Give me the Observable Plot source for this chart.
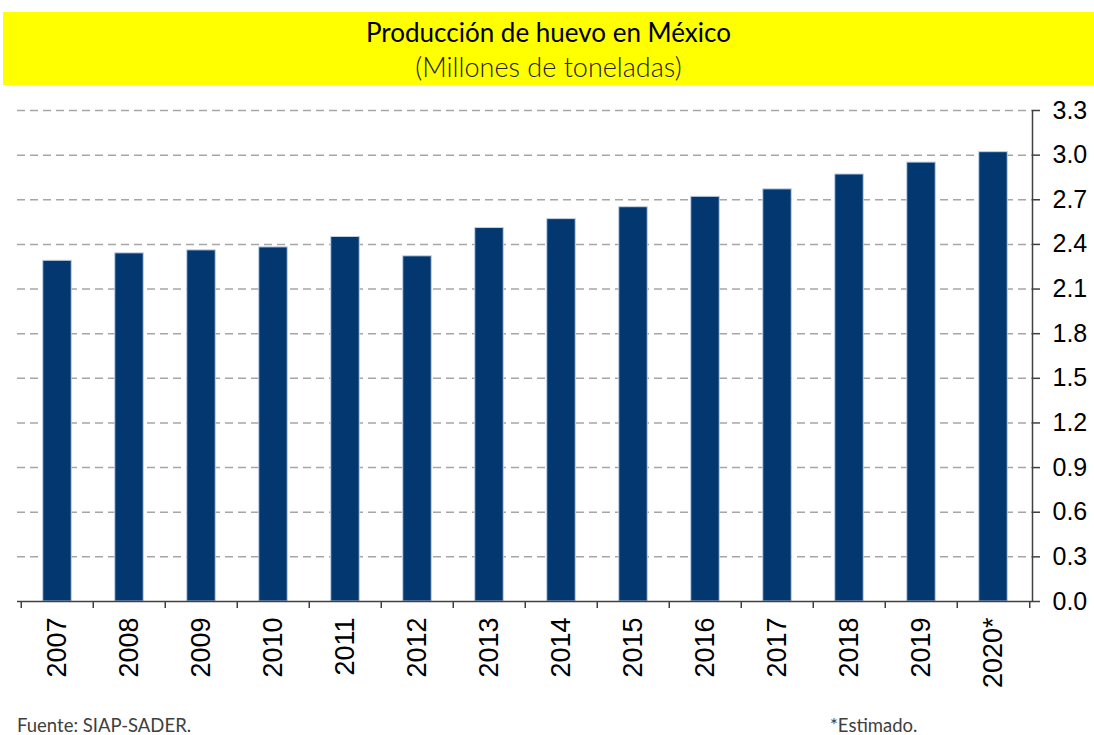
<!DOCTYPE html>
<html>
<head>
<meta charset="utf-8">
<script src="https://cdn.jsdelivr.net/npm/d3@7"></script>
<script src="https://cdn.jsdelivr.net/npm/@observablehq/plot@0.6"></script>
<style>
  body { margin: 0; background: #fff; width: 1094px; height: 735px; position: relative; overflow: hidden; }
  #band { position: absolute; left: 3px; top: 12px; width: 1091px; height: 73px; background: #ffff00; text-align: center; font-family: Lato, "Open Sans", sans-serif; }
  #title { position: absolute; left: 0; right: 0; top: 4px; font-size: 26px; color: #000; }
  #subtitle { position: absolute; left: 0; right: 0; top: 38px; font-size: 27px; color: #222; font-weight: 300; }
  #chart { position: absolute; left: 0; top: 90px; }
  .foot { position: absolute; top: 714px; font-family: Lato, "Open Sans", sans-serif; font-size: 18.5px; color: #404040; }
</style>
</head>
<body>
<div id="band"><div id="title">Producción de huevo en México</div><div id="subtitle">(Millones de toneladas)</div></div>
<div id="chart"></div>
<div class="foot" style="left:17px">Fuente: SIAP-SADER.</div>
<div class="foot" style="left:830px">*Estimado.</div>
<script>
const years = ["2007","2008","2009","2010","2011","2012","2013","2014","2015","2016","2017","2018","2019","2020*"];
const values = [2.29, 2.34, 2.36, 2.38, 2.45, 2.32, 2.51, 2.57, 2.65, 2.72, 2.77, 2.87, 2.95, 3.02];
const yTicks = [0, 0.3, 0.6, 0.9, 1.2, 1.5, 1.8, 2.1, 2.4, 2.7, 3.0, 3.3];

const data = years.map((year, i) => ({year, value: values[i]}));

const W = 1094, H = 600, ML = 17, MR = 62, MT = 20, MB = 89;
const bw = (W - ML - MR) / years.length;
const inset = bw * 0.3;
const font = "'Liberation Sans', Arial, sans-serif";

const chart = Plot.plot({
  width: W, height: H,
  marginLeft: ML, marginRight: MR, marginTop: MT, marginBottom: MB,
  style: {fontFamily: font, fontSize: "25px", color: "#000", background: "transparent"},
  x: {domain: years, padding: 0, axis: null},
  y: {domain: [0, 3.3], axis: null},
  marks: [
    Plot.ruleY(yTicks.filter(d => d > 0), {stroke: "#a6a6a6", strokeWidth: 1.5, strokeDasharray: "8,5"}),
    Plot.barY(data, {x: "year", y: "value", fill: "#03376F", stroke: "#c3d1e6", strokeWidth: 1, insetLeft: inset, insetRight: inset}),
    Plot.ruleY([0], {stroke: "#404040", strokeWidth: 1.5}),
    Plot.ruleX(years, {x: d => d, y1: 0, y2: 0, dx: -bw / 2, insetBottom: -7, stroke: "#404040", strokeWidth: 1.5}),
    Plot.ruleX([years[years.length - 1]], {x: d => d, y1: 0, y2: 0, dx: bw / 2, insetBottom: -7, stroke: "#404040", strokeWidth: 1.5}),
    Plot.frame({anchor: "right", stroke: "#404040", strokeWidth: 1.5}),
    Plot.axisX({anchor: "bottom", label: null, tickSize: 0, tickPadding: 16, tickRotate: -90, fontSize: 27, fill: "#000"}),
    Plot.axisY({anchor: "right", label: null, ticks: yTicks, tickSize: 7, tickPadding: 13, tickFormat: d => d.toFixed(1), fontSize: 25, fill: "#000", stroke: "#404040", strokeWidth: 1.5})
  ]
});
document.getElementById("chart").appendChild(chart);
</script>
</body>
</html>
